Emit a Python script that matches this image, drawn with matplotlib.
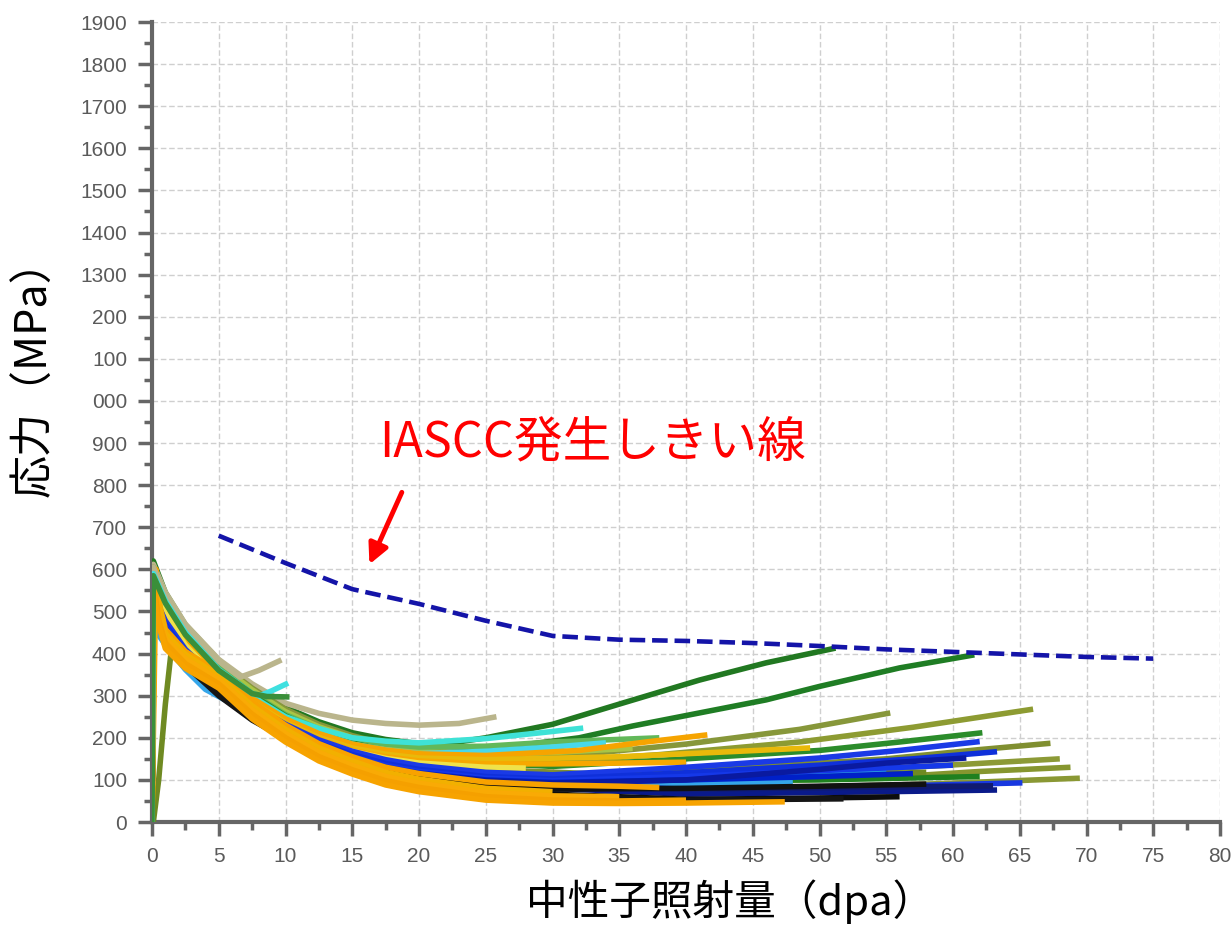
import matplotlib
matplotlib.use("Agg")
import matplotlib.pyplot as plt
from matplotlib.ticker import MultipleLocator

# ---- data ----
# IASCC threshold line (dpa, MPa)
threshold_dpa = [5, 10, 15, 20, 25, 30, 35, 40, 45, 50, 55, 60, 65, 70, 75]
threshold_mpa = [680, 615, 553, 518, 478, 442, 433, 430, 425, 418, 410, 404, 398, 392, 388]

# upper curves: greens, olives, khaki (color, dpa, MPa)
upper_curves = [
    ("#217821", [0, 0.1, 1, 2.5, 5, 7.5, 10, 12.5, 15, 17.5, 20, 22.5, 25, 30, 35, 41, 46, 51.2],
     [0, 620, 545, 468, 384, 322, 272, 238, 212, 196, 186, 188, 200, 232, 280, 337, 378, 413]),
    ("#1f7d24", [0, 0.1, 1, 2.5, 5, 7.5, 10, 12.5, 15, 17.5, 20, 26, 32, 36, 41, 46, 50, 56, 61.6],
     [0, 600, 535, 460, 378, 316, 266, 231, 206, 190, 180, 176, 200, 228, 259, 290, 322, 366, 397]),
    ("#bab58c", [0, 0.1, 1, 2.5, 5, 7.5, 10, 12.5, 15, 17.5, 20, 23, 25.8],
     [0, 612, 546, 470, 386, 328, 282, 258, 242, 234, 230, 234, 250]),
    ("#87973a", [0, 0.1, 1, 2.5, 5, 7.5, 10, 12.5, 15, 17.5, 20, 25, 32, 40, 48.5, 55.3],
     [0, 605, 538, 462, 378, 318, 268, 232, 205, 185, 172, 155, 160, 185, 220, 259]),
    ("#8d9b32", [0, 0.1, 1, 2.5, 5, 7.5, 10, 12.5, 15, 17.5, 20, 25, 30, 38, 48.5, 57, 66],
     [0, 590, 528, 452, 370, 310, 258, 222, 196, 175, 162, 144, 142, 160, 190, 225, 268]),
    ("#a9c545", [0, 0.1, 1, 2.5, 5, 7.5, 10, 12.5, 15, 17.5, 20, 25, 30, 36],
     [0, 598, 532, 458, 374, 314, 262, 226, 200, 181, 168, 160, 165, 175]),
    ("#62b85a", [0, 0.1, 1, 2.5, 5, 7.5, 10, 12.5, 15, 17.5, 20, 25, 30, 38],
     [0, 585, 522, 448, 366, 305, 255, 221, 196, 185, 178, 180, 190, 200]),
    ("#2b8c2b", [0, 0.1, 1, 2.5, 5, 7.5, 10, 12.5, 15, 17.5, 20, 25, 30, 40, 50, 56, 62.2],
     [0, 582, 518, 446, 362, 302, 252, 215, 188, 169, 156, 140, 132, 150, 170, 190, 212]),
    ("#808f30", [0, 0.1, 1, 2.5, 5, 7.5, 10, 12.5, 15, 17.5, 20, 25, 35, 45, 55, 62, 67.3],
     [0, 575, 508, 436, 352, 290, 240, 204, 178, 158, 145, 125, 112, 130, 150, 172, 187]),
    ("#8c9a36", [0, 0.1, 1, 2.5, 5, 7.5, 10, 12.5, 15, 17.5, 20, 25, 30, 40, 50, 58, 68],
     [0, 565, 498, 426, 342, 280, 230, 192, 165, 144, 130, 110, 100, 102, 116, 132, 150]),
    ("#86962f", [0, 0.1, 1, 2.5, 5, 7.5, 10, 12.5, 15, 17.5, 20, 25, 30, 40, 55, 62, 68.8],
     [0, 560, 492, 420, 336, 274, 224, 187, 160, 138, 124, 104, 95, 92, 106, 120, 130]),
    ("#8a9834", [0, 0.1, 1, 2.5, 5, 7.5, 10, 12.5, 15, 17.5, 20, 25, 30, 45, 58, 69.5],
     [0, 555, 486, 414, 330, 268, 218, 181, 154, 132, 118, 98, 88, 80, 90, 104]),
    ("#1f801f", [0, 0.1, 1, 2.5, 5, 7.5, 10, 12.5, 15, 17.5, 20, 25, 30, 40, 50, 62],
     [0, 570, 500, 428, 344, 282, 232, 195, 168, 146, 132, 112, 102, 98, 100, 108]),
    ("#6f8a22", [0.1, 0.5, 1.0, 1.4, 2.5, 5, 7.5, 10, 12.5, 15, 17.5, 20, 25, 30, 40, 50, 58],
     [0, 100, 280, 395, 380, 332, 278, 232, 195, 168, 146, 132, 114, 106, 104, 110, 118]),
]

# cyan / orange / yellow middle curves
middle_curves = [
    ("#3ee2d6", [0, 0.1, 1, 2.5, 5, 7.5, 10, 12.5, 15, 17.5, 20, 25, 30, 32.3],
     [0, 575, 512, 440, 358, 298, 250, 222, 200, 192, 188, 198, 215, 223]),
    ("#48d8ea", [0, 0.1, 1, 2.5, 5, 7.5, 10, 12.5, 15, 17.5, 20, 25, 30, 34],
     [0, 568, 505, 432, 350, 290, 242, 210, 185, 171, 162, 168, 178, 188]),
    ("#f6a400", [0, 0.15, 1, 2.5, 5, 7.5, 10, 12.5, 15, 17.5, 20, 25, 32, 37, 41.6],
     [0, 572, 506, 436, 354, 294, 245, 210, 185, 171, 162, 158, 170, 190, 207]),
    ("#e9b90a", [0, 0.2, 1, 2.5, 5, 7.5, 10, 12.5, 15, 17.5, 20, 25, 35, 42, 49.3],
     [0, 560, 496, 426, 345, 285, 236, 201, 176, 161, 152, 148, 155, 165, 176]),
    ("#f7a800", [0, 0.1, 1, 2.5, 5, 7.5, 10, 12.5, 15, 17.5, 20, 25, 30, 35, 40],
     [0, 580, 505, 430, 345, 282, 232, 196, 170, 155, 145, 138, 138, 140, 142]),
    ("#efe24a", [0, 0.1, 1, 2.5, 5, 7.5, 10, 12.5, 15, 17.5, 20, 25, 28],
     [0, 570, 495, 420, 338, 278, 228, 193, 168, 151, 140, 130, 128]),
    ("#2a9d8f", [0, 0.1, 1, 2.5, 5, 7.5, 10, 12.5, 15, 17.5, 20, 25, 30, 40, 50],
     [0, 540, 475, 405, 325, 265, 218, 181, 155, 133, 118, 98, 88, 78, 76]),
]

# blue, navy and black curves
blue_curves = [
    ("#2a9fe0", [0, 0.1, 0.8, 1, 2.5, 4, 5, 7.5, 10, 12.5, 15, 17.5, 20, 25, 30, 40, 50, 55],
     [0, 470, 440, 430, 372, 322, 305, 262, 226, 189, 162, 139, 124, 104, 95, 98, 110, 122]),
    ("#35a6ea", [0, 0.1, 0.8, 1, 2.5, 4, 5, 7.5, 10, 12.5, 15, 17.5, 20, 25, 30, 40, 48],
     [0, 462, 430, 420, 362, 315, 298, 255, 218, 182, 156, 133, 118, 98, 88, 88, 96]),
    ("#1a3ae6", [0, 0.1, 1, 2.5, 5, 7.5, 10, 12.5, 15, 17.5, 20, 25, 30, 40, 50, 56, 62],
     [0, 540, 478, 410, 335, 276, 232, 195, 168, 148, 134, 118, 112, 130, 152, 170, 191]),
    ("#0f30da", [0, 0.1, 1, 2.5, 5, 7.5, 10, 12.5, 15, 17.5, 20, 25, 30, 40, 50, 57, 63.3],
     [0, 530, 470, 402, 328, 270, 225, 187, 160, 139, 125, 108, 102, 117, 135, 150, 167]),
    ("#1538e8", [0, 0.1, 1, 2.5, 5, 7.5, 10, 12.5, 15, 17.5, 20, 25, 30, 40, 50, 60],
     [0, 525, 465, 396, 322, 264, 220, 182, 155, 134, 120, 104, 98, 108, 122, 135]),
    ("#0020c8", [0, 0.1, 1, 2.5, 5, 7.5, 10, 12.5, 15, 17.5, 20, 25, 30, 40, 50, 57],
     [0, 520, 460, 392, 318, 260, 216, 179, 152, 130, 116, 100, 94, 100, 108, 115]),
    ("#1838e0", [0, 0.1, 1, 2.5, 5, 7.5, 10, 12.5, 15, 17.5, 20, 25, 30, 40, 55, 65.2],
     [0, 515, 455, 388, 314, 256, 212, 175, 148, 126, 112, 95, 88, 78, 85, 93]),
    ("#0a1aa0", [0, 0.1, 1, 2.5, 5, 7.5, 10, 12.5, 15, 17.5, 20, 25, 30, 40, 50, 55, 61],
     [0, 520, 458, 390, 316, 258, 214, 177, 150, 128, 114, 98, 92, 100, 125, 140, 152]),
    ("#0a1a8a", [0, 0.1, 1, 2.5, 5, 7.5, 10, 12.5, 15, 17.5, 20, 25, 30, 40, 55, 63.3],
     [0, 510, 450, 384, 310, 252, 208, 171, 144, 122, 108, 90, 80, 66, 72, 76]),
    ("#101a70", [0, 0.1, 1, 2.5, 5, 7.5, 10, 12.5, 15, 17.5, 20, 25, 30, 40, 52, 63],
     [0, 508, 448, 382, 308, 250, 206, 169, 142, 120, 106, 90, 84, 78, 82, 86]),
    ("#111111", [0, 0.1, 1, 2.5, 5, 7.5, 10, 12.5, 15, 17.5, 20, 25, 30, 40, 50, 58],
     [0, 505, 445, 380, 306, 248, 204, 167, 140, 118, 104, 86, 78, 80, 85, 90]),
    ("#0d0d0d", [0, 0.1, 1, 2.5, 5, 7.5, 10, 12.5, 15, 17.5, 20, 25, 30, 40, 48, 56],
     [0, 500, 440, 375, 302, 244, 200, 162, 135, 113, 98, 78, 66, 54, 56, 60]),
    ("#151515", [0, 0.1, 1, 2.5, 5, 7.5, 10, 12.5, 15, 17.5, 20, 25, 30, 40, 51.8],
     [0, 498, 438, 372, 300, 242, 198, 160, 132, 109, 94, 72, 62, 52, 55]),
]

# lowest orange band
orange_curves = [
    ("#f8a200", [0, 0.3, 0.6, 1, 2.5, 5, 7.5, 10, 12.5, 15, 17.5, 20, 25, 30, 35, 38],
     [0, 600, 512, 458, 405, 356, 286, 230, 186, 155, 130, 115, 95, 88, 85, 82]),
    ("#f2b000", [0, 0.2, 0.6, 1, 2.5, 5, 7.5, 10, 12.5, 15, 17.5, 20, 25, 30],
     [0, 595, 505, 448, 398, 348, 276, 220, 176, 145, 118, 102, 80, 72]),
    ("#f9aa05", [0, 0.15, 0.5, 1, 2.5, 5, 7.5, 10, 12.5, 15, 17.5, 20, 25, 30, 35],
     [0, 585, 492, 436, 388, 338, 266, 210, 165, 134, 108, 92, 70, 62, 60]),
    ("#f5a000", [0, 0.1, 0.5, 1, 2.5, 5, 7.5, 10, 12.5, 15, 17.5, 20, 25, 30, 35, 40],
     [0, 575, 480, 425, 376, 328, 256, 200, 155, 124, 98, 82, 60, 52, 50, 52]),
    ("#f7a300", [0, 0.05, 0.5, 1, 2.5, 5, 7.5, 10, 12.5, 15, 17.5, 20, 25, 30, 35, 40, 47.4],
     [0, 560, 468, 412, 365, 318, 245, 190, 145, 114, 88, 72, 52, 45, 44, 45, 48]),
]

# short curves ending near 10 dpa
short_curves = [
    ("#bab58c", [0, 0.1, 1, 2.5, 5, 6.6, 8, 9.7],
     [0, 605, 540, 468, 382, 344, 360, 385]),
    ("#3fe0e0", [0, 0.1, 1, 2.5, 5, 7.5, 8.1, 9, 10.2],
     [0, 590, 525, 450, 362, 305, 300, 312, 330]),
    ("#3a8f3a", [0, 0.1, 1, 2.5, 5, 7.5, 8.6, 10.3],
     [0, 585, 520, 445, 360, 305, 298, 297]),
]

y_ticks = list(range(0, 2000, 100))
y_tick_labels = ["0", "100", "200", "300", "400", "500", "600", "700", "800", "900",
                 "000", "100", "200", "1300", "1400", "1500", "1600", "1700", "1800", "1900"]
x_ticks = list(range(0, 85, 5))

cjk = ["Noto Sans CJK JP", "DejaVu Sans"]
num_font = ["Liberation Sans", "DejaVu Sans"]

fig = plt.figure(figsize=(12.32, 9.31), dpi=100)
ax = fig.add_axes([152 / 1232, 1 - 822 / 931, (1220 - 152) / 1232, (822 - 22) / 931])

for group in (upper_curves, middle_curves, blue_curves, orange_curves, short_curves):
    for color, xs, ys in group:
        ax.plot(xs, ys, color=color, lw=4.0, solid_capstyle="butt",
                solid_joinstyle="round", zorder=3)

ax.plot(threshold_dpa, threshold_mpa, color="#1414a8", lw=3.3,
        linestyle=(0, (3.4, 1.5)), zorder=4)

ax.set_xlim(0, 80)
ax.set_ylim(0, 1900)
ax.set_xticks(x_ticks)
ax.set_yticks(y_ticks)
ax.set_yticklabels(y_tick_labels)
ax.xaxis.set_minor_locator(MultipleLocator(2.5))
ax.yaxis.set_minor_locator(MultipleLocator(50))
ax.grid(True, which="major", color="#cfcfcf", linestyle=(0, (4, 2)), lw=1.0, zorder=0)
ax.set_axisbelow(True)

for side in ("top", "right"):
    ax.spines[side].set_visible(False)
for side in ("left", "bottom"):
    ax.spines[side].set_color("#666666")
    ax.spines[side].set_linewidth(3.0)

ax.tick_params(which="major", direction="out", length=10, width=2.5, color="#666666",
               labelcolor="#5a5a5a", labelsize=15, pad=8)
ax.tick_params(which="minor", direction="out", length=6, width=2.5, color="#666666")
for lab in ax.get_xticklabels() + ax.get_yticklabels():
    lab.set_family(num_font)

fig.text(35 / 1232, 1 - 368 / 931, "応力（MPa）", rotation=90, ha="center", va="center",
         fontsize=31, family=cjk, color="black")
fig.text(730 / 1232, 1 - 902 / 931, "中性子照射量（dpa）", ha="center", va="center",
         fontsize=30, family=cjk, color="black")

ax.text(17.0, 900, "IASCC発生しきい線", color="#ff0000", fontsize=35, family=cjk,
        ha="left", va="center")
ax.annotate("", xy=(16.2, 606), xytext=(18.8, 789),
            arrowprops=dict(arrowstyle="-|>", color="#ff0000", lw=3.5, mutation_scale=30))

fig.savefig("out.png", dpi=100, facecolor="white")
